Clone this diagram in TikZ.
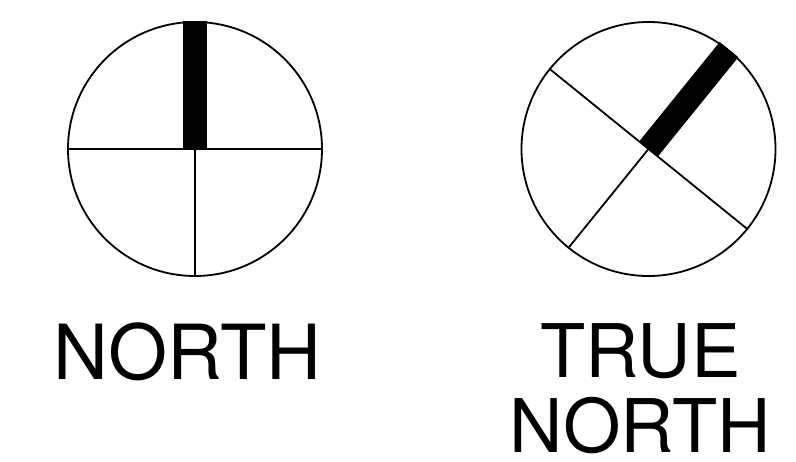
\documentclass[tikz,border=0pt]{standalone}
\usepackage{fontspec}
\setmainfont{TeX Gyre Heros}
\usepackage{tikz}
\usetikzlibrary{positioning}

\begin{document}
\begin{tikzpicture}[x=1pt, y=-1pt, line width=1.8pt,
    dial/.style={circle, draw=black, inner sep=0pt, minimum size=254pt},
    needle/.style={line width=24pt, line cap=butt},
    caption/.style={anchor=base, align=center, inner sep=0pt}]
    \useasboundingbox (0,0) rectangle (796,461);
    % plain north dial
    \node[dial] (plain) at (195,149) {};
    \draw (plain.west) -- (plain.east);
    \draw (plain.center) -- (plain.south);
    \draw[needle] (plain.center) -- (plain.north);
    % true north dial, turned
    \node[dial] (turned) at (648.5,149) {};
    \draw (turned.141) -- (turned.-39);
    \draw (turned.center) -- (turned.231);
    \draw[needle] (turned.center) -- (turned.51);
    \node[caption, font=\fontsize{76}{76}\selectfont] (plainlabel) at (187.5,379.3) {NORTH};
    \node[caption, font=\fontsize{74}{75.4}\selectfont] (turnedlabel) at (640.5,452.7) {TRUE\\NORTH};
  \end{tikzpicture}
\end{document}
